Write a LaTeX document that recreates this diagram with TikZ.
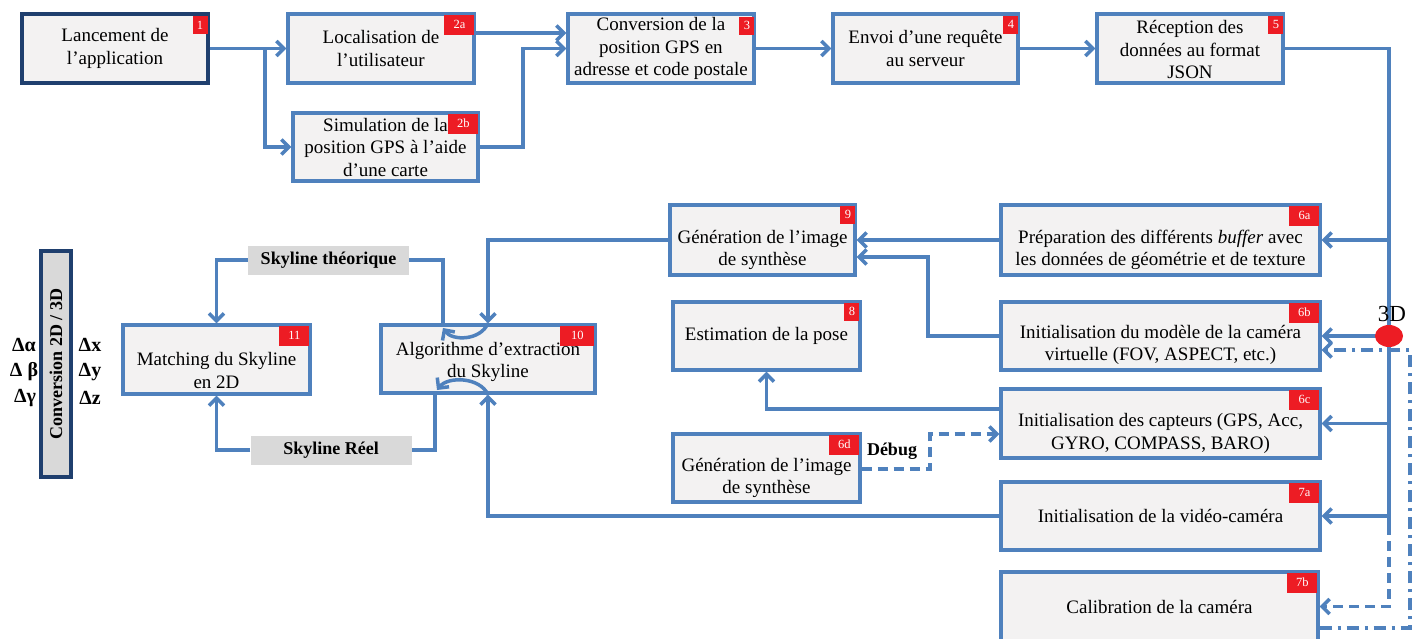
\documentclass[tikz,border=0pt]{standalone}
\usepackage{fontspec}
\setmainfont{Liberation Serif}
\usetikzlibrary{arrows.meta,calc,shapes.geometric}
\definecolor{flow}{HTML}{4F81BD}
\definecolor{navy}{HTML}{1F3F6E}
\definecolor{boxfill}{HTML}{F3F2F2}
\definecolor{labelgray}{HTML}{D9D9D9}
\definecolor{tagred}{HTML}{ED1C24}

\tikzset{
  box/.style={draw=flow, line width=3.3pt, fill=boxfill, inner sep=0pt},
  startbox/.style={box, draw=navy, line width=3.6pt},
  txt/.style={align=center, font=\fontsize{19}{22.5}\selectfont, inner sep=0pt},
  tag/.style={fill=tagred, text=white, font=\fontsize{12.5}{12.5}\selectfont,
    inner sep=0pt, minimum width=15pt, minimum height=18pt, anchor=north east},
  widetag/.style={tag, minimum width=30pt, minimum height=20pt},
  link/.style={draw=flow, line width=3.5pt},
  arr/.style={link, -{Straight Barb[length=7.5pt,width=15pt]}},
  dashline/.style={dash pattern=on 10pt off 6pt},
  dashdotline/.style={dash pattern=on 12pt off 6pt on 3pt off 6pt},
  graylabel/.style={fill=labelgray, font=\bfseries\fontsize{18}{20}\selectfont,
    minimum height=29pt, inner sep=0pt},
  delta/.style={font=\bfseries\fontsize{20}{20}\selectfont, inner sep=0pt},
}

% box given by its corners: [style] {x1}{y1}{x2}{y2}{name}
\newcommand\procbox[6][box]{%
  \node[#1, minimum width={#4-#2}, minimum height={#5-#3}]
    (#6) at ({(#2+#4)/2},{(#3+#5)/2}) {};}

\begin{document}
\begin{tikzpicture}[x=1pt, y=-1pt]
\useasboundingbox (0,0) rectangle (1413,638);

% ---------- boxes ----------
\procbox[startbox]{22}{14}{208}{83}{n1}
\procbox{288}{14}{474}{83}{n2a}
\procbox{293}{113}{478}{181}{n2b}
\procbox{568}{14}{754}{83}{n3}
\procbox{833}{14}{1018}{83}{n4}
\procbox{1097}{14}{1283}{83}{n5}
\procbox{670}{205}{855}{275}{n9}
\procbox{1001}{205}{1320}{275}{n6a}
\procbox{673}{302}{860}{370}{n8}
\procbox{1001}{302}{1320}{370}{n6b}
\procbox{123}{325}{310}{394}{n11}
\procbox{381}{325}{595}{393}{n10}
\procbox{1001}{389}{1320}{458}{n6c}
\procbox{673}{434}{860}{502}{n6d}
\procbox{1001}{482}{1320}{550}{n7a}
\procbox{1001}{572}{1318}{641}{n7b}

% ---------- box texts ----------
\node[txt] (t1)  at (n1)  {Lancement de\\l’application};
\node[txt] (t2a) at (n2a) {Localisation de\\l’utilisateur};
\node[txt] (t2b) at (n2b) {Simulation de la\\position GPS à l’aide\\d’une carte};
\node[txt] (t3)  at (n3)  {Conversion de la\\position GPS en\\adresse et code postale};
\node[txt] (t4)  at (n4)  {Envoi d’une requête\\au serveur};
\node[txt] (t5)  at ([yshift=-1pt]n5.center) {Réception des\\données au format\\JSON};
\node[txt] (t9)  at ([yshift=-10pt]n9.center)  {Génération de l’image\\de synthèse};
\node[txt] (t6a) at ([yshift=-10pt]n6a.center) {Préparation des différents \emph{buffer} avec\\les données de géométrie et de texture};
\node[txt] (t8)  at (n8)  {Estimation de la pose};
\node[txt] (t6b) at ([yshift=-9pt]n6b.center)  {Initialisation du modèle de la caméra\\virtuelle (FOV, ASPECT, etc.)};
\node[txt] (t11) at ([yshift=-11pt]n11.center) {Matching du Skyline\\en 2D};
\node[txt] (t10) at ([yshift=-3pt]n10.center)  {Algorithme d’extraction\\du Skyline};
\node[txt] (t6c) at ([yshift=-10pt]n6c.center) {Initialisation des capteurs (GPS, Acc,\\GYRO, COMPASS, BARO)};
\node[txt] (t6d) at ([yshift=-10pt]n6d.center) {Génération de l’image\\de synthèse};
\node[txt] (t7a) at (n7a) {Initialisation de la vidéo-caméra};
\node[txt] (t7b) at (n7b) {Calibration de la caméra};

% ---------- step numbers ----------
\node[tag]     at ([shift={(-2pt,-4pt)}]n1.north east)  {1};
\node[widetag] at ([shift={(-1pt,-2pt)}]n2a.north east) {2a};
\node[widetag] at ([shift={(-1pt,-2pt)}]n2b.north east) {2b};
\node[tag]     at ([shift={(-1pt,-4pt)}]n3.north east)  {3};
\node[tag]     at ([shift={(-1pt,-3pt)}]n4.north east)  {4};
\node[tag]     at ([shift={(-1pt,-3pt)}]n5.north east)  {5};
\node[tag]     at ([shift={(-1pt,-2pt)}]n9.north east)  {9};
\node[widetag] at ([shift={(-2pt,-2pt)}]n6a.north east) {6a};
\node[tag]     at ([shift={(-2pt,-2pt)}]n8.north east)  {8};
\node[widetag] at ([shift={(-2pt,-2pt)}]n6b.north east) {6b};
\node[widetag] at ([shift={(-2pt,-2pt)}]n11.north east) {11};
\node[widetag, minimum width=34pt] at ([shift={(-2pt,-2pt)}]n10.north east) {10};
\node[widetag] at ([shift={(-2pt,-2pt)}]n6c.north east) {6c};
\node[widetag] at ([shift={(-2pt,-2pt)}]n6d.north east) {6d};
\node[widetag] at ([shift={(-2pt,-2pt)}]n7a.north east) {7a};
\node[widetag] at ([shift={(-2pt,-2pt)}]n7b.north east) {7b};

% ---------- gray labels and side bar ----------
\node[graylabel, minimum width=161pt] (skyT) at (328.5,260) {Skyline théorique};
\node[graylabel, minimum width=161pt] (skyR) at (331,450) {Skyline Réel};

\node[draw=navy, line width=3.3pt, fill=labelgray, minimum width=30pt,
      minimum height=226pt, inner sep=0pt] (conv) at (56,364) {};
\node[rotate=90, font=\bfseries\fontsize{18}{18}\selectfont, inner sep=0pt]
      (convtxt) at (conv) {Conversion 2D / 3D};

\node[delta] (da) at (24,345) {Δα};
\node[delta] (db) at (24,372) {Δ β};
\node[delta] (dg) at (25,398) {Δγ};
\node[delta] (dx) at (90,345) {Δx};
\node[delta] (dy) at (90,372) {Δy};
\node[delta] (dz) at (90,398) {Δz};

% ---------- top row ----------
\draw[arr] (n1.east) -- (n2a.west);
\draw[arr] (n1.east) -- (265,48.5) |- (n2b.west);
\draw[arr] (n2a.east |- 0,33) -- (n3.west |- 0,33);
\draw[arr] (n2b.east) -- (523,147) |- (n3.west);
\draw[arr] (n3.east) -- (n4.west);
\draw[arr] (n4.east) -- (n5.west);

% ---------- 3D distribution trunk ----------
\coordinate (trunktop) at (1389,48.5);
\coordinate (trunkend) at (1389,525);
\draw[link] (n5.east) -- (trunktop) -- (trunkend);
\draw[arr, dashline] (trunkend) |- (n7b.east);
\draw[arr] (n6a.east -| trunktop) -- (n6a.east);
\draw[arr] (n6b.east -| trunktop) -- (n6b.east);
\draw[arr] (n6c.east -| trunktop) -- (n6c.east);
\draw[arr] (n7a.east -| trunktop) -- (n7a.east);
\draw[arr, dashdotline] (n7b.east |- 0,628) -- (1410,628) -- (1410,350) -- (n6b.east |- 0,350);

\node[ellipse, fill=tagred, minimum width=28pt, minimum height=22pt, inner sep=0pt]
      (hub) at (1389,336) {};
\node[font=\fontsize{23}{23}\selectfont, inner sep=0pt] (lbl3d) at (1392,314) {3D};

% ---------- middle links ----------
\draw[arr] (n6a.west) -- (n9.east);
\draw[arr] (n6b.west) -- (928,336) |- (n9.east |- 0,257);
\draw[arr] (n6c.west |- 0,409) -| (n8.south);
\draw[arr, dashline] (n6d.east |- 0,469) -- (930,469) |- (n6c.west |- 0,434);
\node[font=\bfseries\fontsize{18}{18}\selectfont, inner sep=0pt] (debug) at (892,451) {Débug};
\draw[arr] (n9.west) -| (n10.north);
\draw[arr] (n7a.west) -| (n10.south);

% ---------- skyline loop ----------
\draw[arr] (n10.north) .. controls (480,341) and (452,341) .. (443,328);
\draw[link] (443,327) |- (skyT.east);
\draw[arr] (skyT.west) -| (n11.north);
\draw[arr] (n10.south) .. controls (480,377) and (448,376) .. (437,390);
\draw[link] (435,392) |- (skyR.east);
\draw[arr] (skyR.west) -| (n11.south);
\end{tikzpicture}
\end{document}
